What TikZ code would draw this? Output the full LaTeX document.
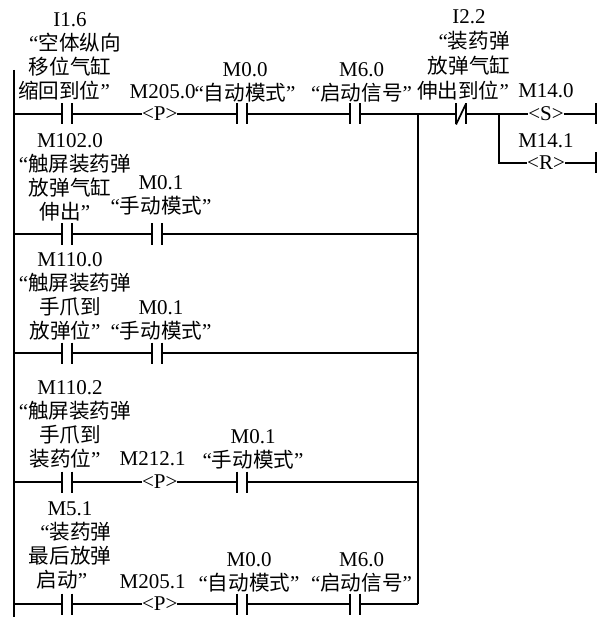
\documentclass[tikz,border=0pt]{standalone}
\usepackage{fontspec}
\setmainfont{Liberation Serif}
\newfontfamily\cjk[Scale=0.98]{Noto Sans CJK SC}
\newcommand{\zh}[1]{{\cjk #1}}
\usetikzlibrary{positioning}

\begin{document}
\begin{tikzpicture}[x=1pt, y=-1pt, line width=1.7pt, every node/.style={outer sep=0pt},
    contact/.style={rectangle, inner sep=0pt, minimum width=10pt, minimum height=21pt,
        append after command={(\tikzlastnode.north west) edge (\tikzlastnode.south west)
            (\tikzlastnode.north east) edge (\tikzlastnode.south east)}},
    nccontact/.style={contact,
        append after command={(\tikzlastnode.south west) edge (\tikzlastnode.north east)}},
    coil/.style={rectangle, inner sep=0pt, minimum width=33pt, minimum height=21pt,
        font=\fontsize{21}{24}\selectfont},
    endbar/.style={rectangle, inner sep=0pt, minimum width=0pt, minimum height=21pt,
        append after command={(\tikzlastnode.north) edge (\tikzlastnode.south)}},
    tag/.style={inner sep=0pt, align=center, text depth=3pt,
        font=\fontsize{21}{24}\selectfont}]
    \useasboundingbox (0,0) rectangle (606,617);

    \coordinate (railtop) at (14,70);
    \coordinate (railend) at (14,617);
    \coordinate (left1) at (14,114);
    \coordinate (left2) at (14,234);
    \coordinate (left3) at (14,353);
    \coordinate (left4) at (14,482);
    \coordinate (left5) at (14,604);
    \coordinate (join1) at (418,114);
    \coordinate (join2) at (418,234);
    \coordinate (join3) at (418,353);
    \coordinate (join4) at (418,482);
    \coordinate (join5) at (418,604);
    \coordinate (fork) at (499,114);
    \coordinate (forkdown) at (499,163);

    % first rung
    \node (i16) [contact] at (67,114) {};
    \node (p50) [coil, right=70pt of i16] {<P>};
    \node (m00a) [contact, right=59.7pt of p50] {};
    \node (m60a) [contact, right=103pt of m00a] {};
    \node (i22) [nccontact, right=96pt of m60a] {};
    \node (set) [coil] at (546,114) {<S>};
    \node (reset) [coil] at (546,163) {<R>};
    \node (endset) [endbar] at (596,114) {};
    \node (endreset) [endbar] at (596,163) {};

    % rungs below
    \node (m1020) [contact] at (67,234) {};
    \node (m01a) [contact, right=80pt of m1020] {};
    \node (m1100) [contact] at (67,353) {};
    \node (m01b) [contact, right=80pt of m1100] {};
    \node (m1102) [contact] at (67,482) {};
    \node (p121) [coil, right=70pt of m1102] {<P>};
    \node (m01c) [contact, right=59.7pt of p121] {};
    \node (m51) [contact] at (67,604) {};
    \node (p51) [coil, right=70pt of m51] {<P>};
    \node (m00b) [contact, right=59.7pt of p51] {};
    \node (m60b) [contact, right=103pt of m00b] {};

    % texts
    \node (ti16) [tag, above=1.5pt of i16, xshift=3pt] {I1.6\\\hspace*{10pt}“\zh{空体纵向}\\\zh{移位气缸}\\\zh{缩回到位}”\hspace*{12pt}};
    \node (tp50) [tag, above=1.5pt of p50, xshift=3pt] {M205.0};
    \node (tm00a) [tag, above=-0.5pt of m00a, xshift=3pt] {M0.0\\“\zh{自动模式}”};
    \node (tm60a) [tag, above=-0.5pt of m60a, xshift=6.5pt] {M6.0\\“\zh{启动信号}”};
    \node (ti22) [tag, above=1.5pt of i22, xshift=8pt] {I2.2\\[1pt]\hspace*{10pt}“\zh{装药弹}\\[1pt]\zh{放弹气缸}\\[1pt]\zh{伸出到位}”\hspace*{12pt}};
    \node (tset) [tag, above=2.5pt of set] {M14.0};
    \node (treset) [tag, above=1.5pt of reset] {M14.1};
    \node (tm1020) [tag, above=1pt of m1020, xshift=3pt] {M102.0\\\hspace*{10pt}“\zh{触屏装药弹}\\\zh{放弹气缸}\\\zh{伸出}”\hspace*{10pt}};
    \node (tm01a) [tag, above=6.5pt of m01a, xshift=4pt] {M0.1\\“\zh{手动模式}”};
    \node (tm1100) [tag, above=1.5pt of m1100, xshift=3pt] {M110.0\\\hspace*{10pt}“\zh{触屏装药弹}\\\zh{手爪到}\\\zh{放弹位}”\hspace*{10pt}};
    \node (tm01b) [tag, above=1.5pt of m01b, xshift=4pt] {M0.1\\“\zh{手动模式}”};
    \node (tm1102) [tag, above=2pt of m1102, xshift=3pt] {M110.2\\\hspace*{10pt}“\zh{触屏装药弹}\\\zh{手爪到}\\\zh{装药位}”\hspace*{10pt}};
    \node (tp121) [tag, above=3pt of p121, xshift=-7pt] {M212.1};
    \node (tm01c) [tag, above=1pt of m01c, xshift=11pt] {M0.1\\“\zh{手动模式}”};
    \node (tm51) [tag, above=3pt of m51, xshift=3pt] {M5.1\\\hspace*{12pt}“\zh{装药弹}\\\zh{最后放弹}\\\zh{启动}”\hspace*{16pt}};
    \node (tp51) [tag, above=2.5pt of p51, xshift=-7pt] {M205.1};
    \node (tm00b) [tag, above=0.5pt of m00b, xshift=7pt] {M0.0\\“\zh{自动模式}”};
    \node (tm60b) [tag, above=0.5pt of m60b, xshift=6.5pt] {M6.0\\“\zh{启动信号}”};

    % connectors
    \draw (railtop) -- (railend);
    \draw (join1) -- (join5);
    \draw (left1) -- (i16) (i16) -- (p50) (p50) -- (m00a) (m00a) -- (m60a) (m60a) -- (i22)
        (i22) -- (set) (set) -- (endset);
    \draw (fork) -- (forkdown) -- (reset) (reset) -- (endreset);
    \draw (left2) -- (m1020) (m1020) -- (m01a) (m01a) -- (join2);
    \draw (left3) -- (m1100) (m1100) -- (m01b) (m01b) -- (join3);
    \draw (left4) -- (m1102) (m1102) -- (p121) (p121) -- (m01c) (m01c) -- (join4);
    \draw (left5) -- (m51) (m51) -- (p51) (p51) -- (m00b) (m00b) -- (m60b) (m60b) -- (join5);
\end{tikzpicture}
\end{document}
